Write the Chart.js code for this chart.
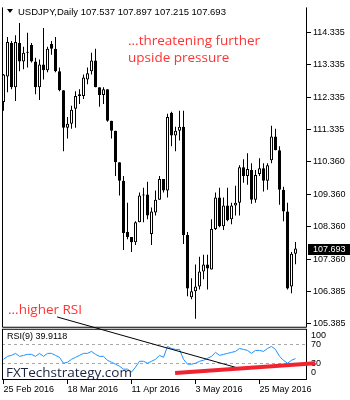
<!DOCTYPE html>
<html>
<head>
<meta charset="utf-8">
<title>USDJPY Daily</title>
<script src="https://cdn.jsdelivr.net/npm/chart.js@4.4.1/dist/chart.umd.min.js"></script>
<style>
  html, body { margin: 0; padding: 0; background: #fff; }
  #box { position: relative; width: 350px; height: 400px; overflow: hidden; }
  #box canvas { position: absolute; left: 0; top: 0; }
  .txt { position: absolute; white-space: nowrap; }
  .mt { font: 9px/11px "Liberation Sans", Arial, sans-serif; color: #000; }
  .note { font: 13.5px/17px "Open Sans", sans-serif; color: #ff3333; }
  .brand { font: 13.5px/17px "Open Sans", sans-serif; color: #1b2440; }
  .tri { position: absolute; left: 7px; top: 9px; width: 0; height: 0;
         border-left: 3px solid transparent; border-right: 3px solid transparent; border-top: 4px solid #000; }
</style>
</head>
<body>
<div id="box">
  <canvas id="chart" width="350" height="400"></canvas>
  <div class="tri"></div>
  <div class="txt mt" id="hdr" style="left:18px;top:6px;font-size:9.5px"></div>
  <div class="txt note" style="left:128px;top:32px">...threatening further<br>upside pressure</div>
  <div class="txt note" style="left:8px;top:301px">...higher RSI</div>
  <div class="txt mt" id="rsiHdr" style="left:7px;top:331px"></div>
  <div class="txt brand" style="left:6px;top:364px">FXTechstrategy.com</div>
</div>
<script>
// daily USDJPY bars, 25 Feb 2016 onwards
const opens = [
  112.19, 112.97, 114.00, 112.64, 114.00, 113.43, 113.73, 113.94, 113.43, 112.64,
  113.34, 113.16, 113.97, 113.82, 113.13, 112.55, 111.40, 111.52, 111.98, 112.37,
  112.37, 112.88, 113.13, 113.46, 112.64, 112.40, 112.58, 111.61, 111.31, 110.34,
  109.77, 108.20, 108.05, 107.89, 108.50, 109.35, 109.35, 108.14, 108.80, 109.19,
  109.83, 109.47, 111.86, 111.16, 111.31, 111.43, 108.11, 106.20, 106.38, 106.53,
  106.99, 107.20, 107.05, 108.29, 109.26, 108.38, 109.01, 108.59, 109.01, 109.10,
  110.19, 109.92, 110.10, 109.19, 109.98, 110.16, 109.77, 110.40, 111.13, 110.71,
  109.50, 108.83, 106.53, 107.537
];
const highs = [
  113.05, 114.18, 114.06, 114.24, 114.61, 113.88, 114.31, 114.00, 113.55, 113.49,
  114.46, 113.88, 114.06, 114.18, 113.25, 112.55, 111.73, 112.07, 112.52, 112.58,
  113.03, 113.25, 113.70, 113.82, 112.64, 112.64, 112.58, 111.61, 111.31, 110.34,
  109.92, 109.10, 108.05, 108.53, 109.41, 109.56, 109.74, 108.95, 109.47, 109.92,
  109.83, 111.83, 111.89, 111.43, 111.92, 111.92, 108.20, 106.78, 107.20, 107.44,
  107.50, 107.50, 108.59, 109.41, 109.56, 109.26, 109.56, 109.10, 109.62, 110.25,
  110.43, 110.62, 110.31, 110.10, 110.46, 110.31, 110.31, 111.46, 111.37, 110.83,
  109.59, 109.10, 107.59, 107.897
];
const lows = [
  111.92, 112.49, 112.58, 112.22, 113.13, 113.19, 113.25, 113.40, 112.43, 112.25,
  112.88, 113.10, 113.64, 113.10, 112.52, 110.68, 111.07, 111.37, 111.40, 112.13,
  112.28, 112.73, 113.03, 112.64, 112.04, 112.13, 111.58, 111.07, 109.92, 109.32,
  107.65, 107.98, 107.59, 107.80, 108.50, 108.50, 108.59, 107.80, 108.71, 109.19,
  109.41, 109.26, 110.83, 110.68, 111.01, 107.83, 106.23, 106.14, 105.54, 106.44,
  106.75, 106.44, 107.05, 108.26, 108.35, 108.26, 108.53, 108.44, 108.71, 108.71,
  109.71, 109.65, 109.07, 109.10, 109.92, 109.44, 109.50, 110.31, 110.71, 109.04,
  108.53, 106.44, 106.32, 107.215
];
const closes = [
  113.03, 114.03, 112.64, 114.03, 113.43, 113.70, 113.70, 113.43, 112.64, 113.34,
  113.16, 113.82, 113.82, 113.13, 112.55, 111.40, 111.52, 111.95, 112.37, 112.43,
  112.94, 113.07, 113.46, 112.64, 112.40, 112.58, 111.61, 111.31, 110.34, 109.77,
  108.17, 108.05, 107.89, 108.50, 109.32, 109.32, 108.71, 108.83, 109.19, 109.83,
  109.47, 111.73, 111.16, 111.31, 111.43, 108.11, 106.47, 106.38, 106.53, 106.99,
  107.20, 107.08, 108.29, 109.26, 108.38, 109.01, 108.56, 109.01, 109.10, 110.19,
  109.92, 110.13, 109.19, 109.95, 110.16, 109.77, 110.25, 111.13, 110.71, 109.50,
  108.83, 106.47, 107.53, 107.693
];
// RSI(9)
const rsi = [
  38.4, 44.7, 46.8, 51.1, 44.7, 46.8, 49.0, 49.0, 44.7, 51.1,
  44.7, 51.1, 51.1, 46.8, 42.6, 30.0, 32.1, 38.4, 42.6, 46.8,
  51.1, 51.1, 55.3, 49.0, 44.7, 44.7, 36.3, 32.1, 28.0, 23.7,
  17.4, 17.4, 11.1, 21.6, 34.2, 34.2, 30.0, 34.2, 38.4, 46.8,
  42.6, 65.8, 61.6, 59.5, 59.5, 38.4, 28.0, 28.0, 30.0, 34.2,
  36.3, 40.5, 44.7, 53.2, 46.8, 49.0, 51.1, 53.2, 55.3, 61.6,
  59.5, 57.4, 51.1, 57.4, 57.4, 55.3, 61.6, 65.8, 59.5, 44.7,
  36.3, 30.0, 36.3, 39.9118
];

const dateTickIdx = [0, 16, 32, 48, 64];
const dateTickLabels = ['25 Feb 2016', '18 Mar 2016', '11 Apr 2016', '3 May 2016', '25 May 2016'];
const priceTicks = [114.335, 113.335, 112.335, 111.335, 110.360, 109.360, 108.360, 107.360, 106.385, 105.385];
const rsiLabels = [100, 70, 30, 0];
const rsiLevels = [70, 30];

// hand-drawn lines on the RSI pane (bar index, RSI value)
const fallLineX = [13.4, 59.6];
const fallLineY = [128.9, 17.4];
const riseLineX = [42.9, 77.9];
const riseLineY = [8.9, 30.0];

const tickFont = { family: '"Liberation Sans", Arial, sans-serif', size: 9 };
const last = closes.length - 1;

document.getElementById('hdr').textContent =
  'USDJPY,Daily  ' + [opens[last], highs[last], lows[last], closes[last]].map(v => v.toFixed(3)).join(' ');
document.getElementById('rsiHdr').textContent = 'RSI(9) ' + rsi[last].toFixed(4);

const pts = (xs, ys) => xs.map((x, i) => ({ x, y: ys[i] }));
const bars = closes.map((_, i) => i);

// pane frames and RSI scale labels sit under the series
const paneFrame = {
  id: 'paneFrame',
  beforeDatasetsDraw(chart) {
    const { ctx, chartArea: a, scales } = chart;
    const p = scales.y, r = scales.rsi;
    const L = a.left + 0.5, R = a.right - 0.5;
    ctx.save();
    ctx.strokeStyle = '#000';
    ctx.lineWidth = 1;
    ctx.beginPath();
    ctx.moveTo(L, p.top);
    ctx.lineTo(L, p.bottom - 0.5);
    ctx.lineTo(R, p.bottom - 0.5);
    ctx.lineTo(R, p.top);
    ctx.stroke();
    ctx.strokeRect(L, r.top + 1.5, R - L, r.bottom - r.top - 2);

    ctx.font = '9px "Liberation Sans", Arial, sans-serif';
    ctx.textBaseline = 'middle';
    ctx.fillStyle = '#000';
    rsiLabels.forEach(v => {
      const y = Math.min(Math.max(r.getPixelForValue(v), r.top + 8), r.bottom - 7);
      ctx.fillText(String(v), a.right + 4, y);
    });
    ctx.restore();
  }
};

// boxed marker for the last close on the price scale
const lastPrice = {
  id: 'lastPrice',
  afterDraw(chart) {
    const { ctx, chartArea: a, scales } = chart;
    const py = Math.round(scales.y.getPixelForValue(closes[last]));
    ctx.save();
    ctx.font = '9px "Liberation Sans", Arial, sans-serif';
    ctx.textBaseline = 'middle';
    ctx.fillStyle = '#000';
    ctx.fillRect(a.right + 1, py - 5, chart.width - a.right - 1, 11);
    ctx.fillStyle = '#fff';
    ctx.fillText(closes[last].toFixed(3), a.right + 6, py + 0.5);
    ctx.restore();
  }
};

new Chart(document.getElementById('chart'), {
  data: {
    datasets: [
      {
        type: 'line', yAxisID: 'rsi', data: pts(riseLineX, riseLineY),
        borderColor: '#f22330', borderWidth: 4, pointRadius: 0, clip: false
      },
      {
        type: 'line', yAxisID: 'rsi', data: pts(fallLineX, fallLineY),
        borderColor: '#000', borderWidth: 1, pointRadius: 0, clip: false
      },
      {
        type: 'line', yAxisID: 'rsi', data: pts(bars, rsi),
        borderColor: '#1e90ff', borderWidth: 1, pointRadius: 0, tension: 0
      },
      {
        type: 'bar', yAxisID: 'y', order: 1,
        data: bars.map(i => ({ x: i, y: [opens[i], closes[i]] })),
        backgroundColor: bars.map(i => closes[i] >= opens[i] ? '#fff' : '#000'),
        borderColor: '#000', borderWidth: 1, borderSkipped: false, inflateAmount: 0,
        grouped: false, categoryPercentage: 1, barPercentage: 0.75, minBarLength: 1
      },
      {
        type: 'bar', yAxisID: 'y', order: 2,
        data: bars.map(i => ({ x: i, y: [lows[i], highs[i]] })),
        backgroundColor: '#000', borderWidth: 0, inflateAmount: 0,
        grouped: false, categoryPercentage: 1, barPercentage: 0.25
      }
    ]
  },
  options: {
    responsive: false,
    animation: false,
    layout: { padding: { left: 2, top: 2, right: 0, bottom: 0 } },
    plugins: { legend: { display: false }, tooltip: { enabled: false } },
    scales: {
      x: {
        type: 'linear', min: -0.375, max: 75.875, offset: false,
        afterBuildTicks: s => { s.ticks = dateTickIdx.map(v => ({ value: v })); },
        afterFit: s => { s.height = 20; },
        ticks: {
          callback: v => dateTickLabels[dateTickIdx.indexOf(v)],
          align: 'start', maxRotation: 0, autoSkip: false, padding: 0, color: '#000', font: tickFont
        },
        grid: { offset: false, drawOnChartArea: false, tickLength: 4, color: '#000' },
        border: { display: false }
      },
      y: {
        type: 'linear', position: 'right', stack: 'pane', stackWeight: 325,
        min: 105.263, max: 115.091,
        afterBuildTicks: s => { s.ticks = priceTicks.map(v => ({ value: v })); },
        afterFit: s => { s.width = 43; },
        ticks: { callback: v => v.toFixed(3), padding: 2, color: '#000', font: tickFont },
        grid: { drawOnChartArea: false, tickLength: 4, color: '#000' },
        border: { display: false }
      },
      rsi: {
        type: 'linear', position: 'right', stack: 'pane', stackWeight: 53,
        min: -5.8, max: 105.8,
        afterBuildTicks: s => { s.ticks = rsiLevels.map(v => ({ value: v })); },
        afterFit: s => { s.width = 43; },
        ticks: { display: false },
        grid: { drawTicks: false, color: '#a8a8a8' },
        border: { display: false, dash: [3, 3] }
      }
    }
  },
  plugins: [paneFrame, lastPrice]
});
</script>
</body>
</html>
